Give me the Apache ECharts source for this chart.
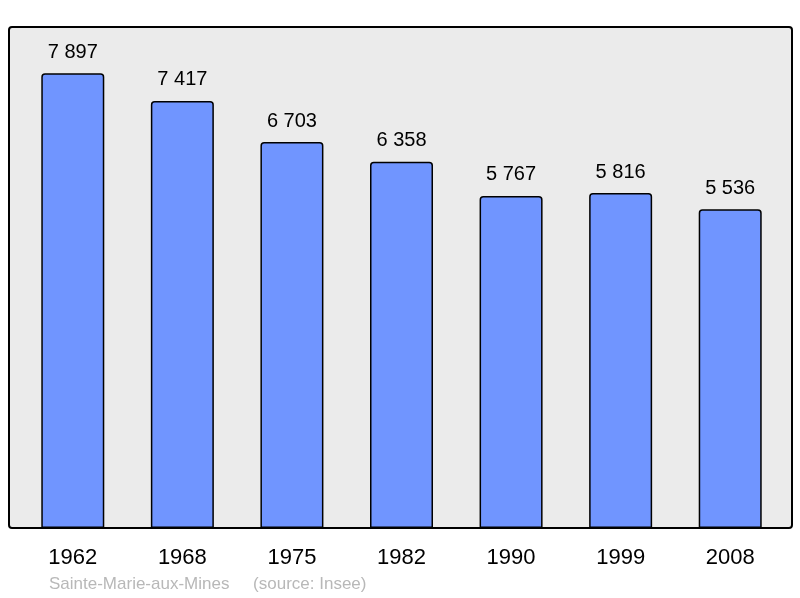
<!DOCTYPE html>
<html>
<head>
<meta charset="utf-8">
<script src="https://cdn.jsdelivr.net/npm/echarts@6/dist/echarts.min.js"></script>
<style>
  html, body { margin: 0; padding: 0; background: #fff; }
  #chart { width: 800px; height: 598px; }
</style>
</head>
<body>
<div id="chart"></div>
<script>
/* population data */
var years = ['1962', '1968', '1975', '1982', '1990', '1999', '2008'];
var population = [7897, 7417, 6703, 6358, 5767, 5816, 5536];
var townName = 'Sainte-Marie-aux-Mines';
var sourceText = '(source: Insee)';

function fmt(v) {
    return String(v).replace(/\B(?=(\d{3})+(?!\d))/g, ' ');
}

var chart = echarts.init(document.getElementById('chart'));
chart.setOption({
    animation: false,
    textStyle: { fontFamily: 'Liberation Sans, Arial, sans-serif' },
    graphic: [
        {
            type: 'rect',
            z: -10,
            silent: true,
            shape: { x: 9, y: 27, width: 783, height: 501, r: 3 },
            style: { fill: '#ebebeb', stroke: '#000', lineWidth: 2 }
        },
        {
            type: 'text',
            left: 49,
            top: 576,
            style: {
                text: townName + '     ' + sourceText,
                fill: '#b8b8b8',
                fontSize: 17,
                fontFamily: 'Liberation Sans, Arial, sans-serif'
            }
        }
    ],
    grid: { left: 18, right: 15, top: 27, bottom: 70 },
    xAxis: {
        type: 'category',
        data: years,
        axisLine: { show: false },
        axisTick: { show: false },
        axisLabel: { color: '#000', fontSize: 22, margin: 19 }
    },
    yAxis: {
        type: 'value',
        min: 0,
        max: 8700,
        show: false,
        splitLine: { show: false }
    },
    series: [{
        type: 'bar',
        data: population,
        barWidth: 63,
        itemStyle: {
            color: '#7095ff',
            borderColor: '#000',
            borderWidth: 1.5,
            borderRadius: [3, 3, 0, 0]
        },
        label: {
            show: true,
            position: 'top',
            distance: 11,
            color: '#000',
            fontSize: 20,
            formatter: function (p) { return fmt(p.value); }
        }
    }]
});
</script>
</body>
</html>
